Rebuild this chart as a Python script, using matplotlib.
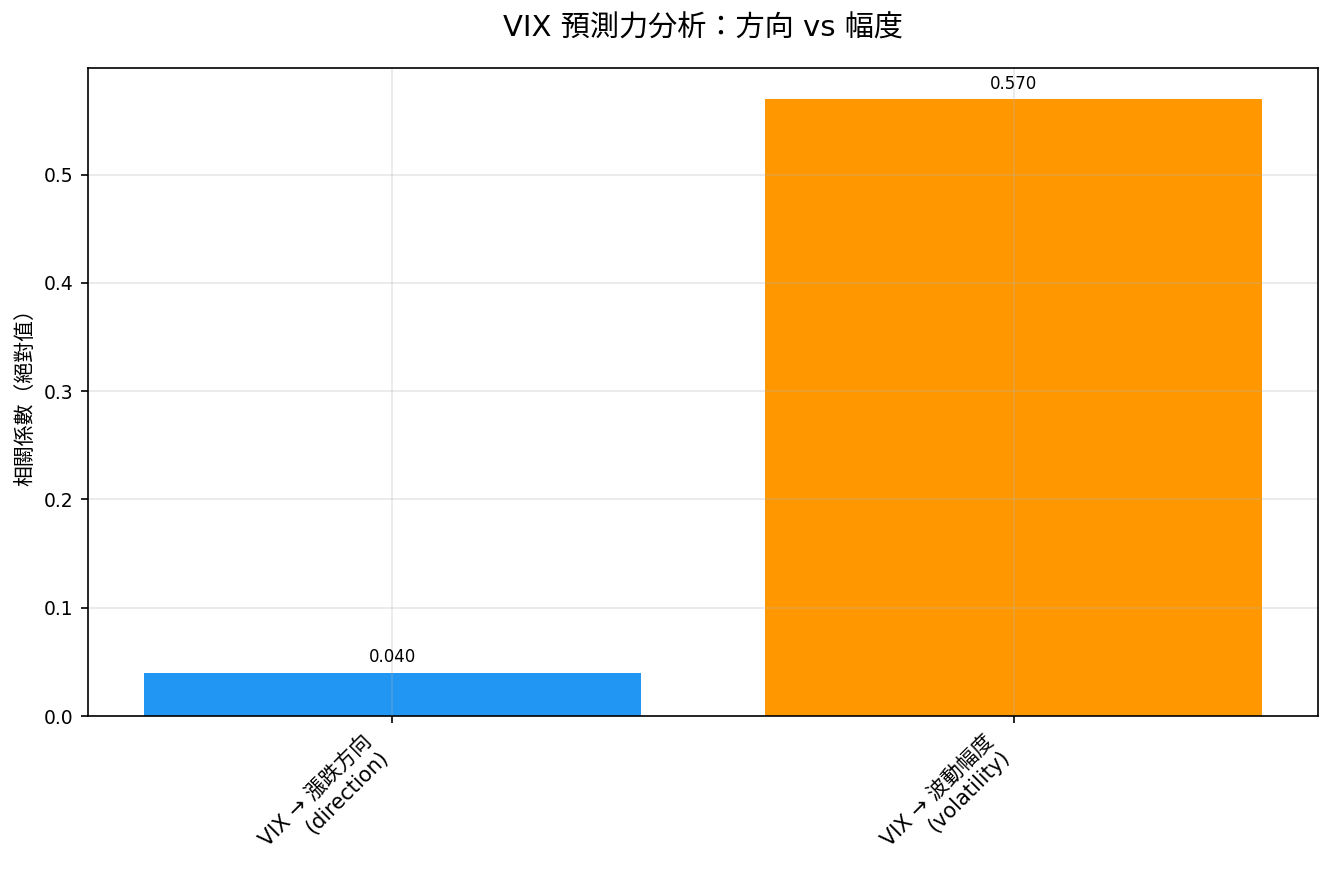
import matplotlib
matplotlib.use("Agg")
from matplotlib import pyplot as plt

plt.rcParams['font.family'] = ['DejaVu Sans', 'Noto Sans CJK JP']

LABELS = ["VIX → 漲跌方向\n(direction)", "VIX → 波動幅度\n(volatility)"]
VALUES = [0.040, 0.570]
COLORS = ["#2196F3", "#FF9800"]

fig, ax = plt.subplots(figsize=(1333 / 150, 884 / 150), dpi=150)
fig.subplots_adjust(left=88 / 1333, right=1318 / 1333, top=1 - 68 / 884, bottom=1 - 716 / 884)

x = list(range(len(LABELS)))
bars = ax.bar(x, VALUES, color=COLORS, width=0.8)

for bar, v in zip(bars, VALUES):
    ax.annotate(f"{v:.3f}", (bar.get_x() + bar.get_width() / 2, v),
                xytext=(0, 3), textcoords="offset points",
                ha="center", va="bottom", fontsize=8)

ax.set_xticks(x)
ax.set_xticklabels(LABELS, rotation=45, ha="right", fontsize=10)
ax.tick_params(axis="y", labelsize=9)
ax.set_ylabel("相關係數（絕對值）", fontsize=10)
ax.set_title("VIX 預測力分析：方向 vs 幅度", fontsize=14, pad=15)
ax.grid(True, alpha=0.3)

plt.savefig("out.png", dpi=150)
